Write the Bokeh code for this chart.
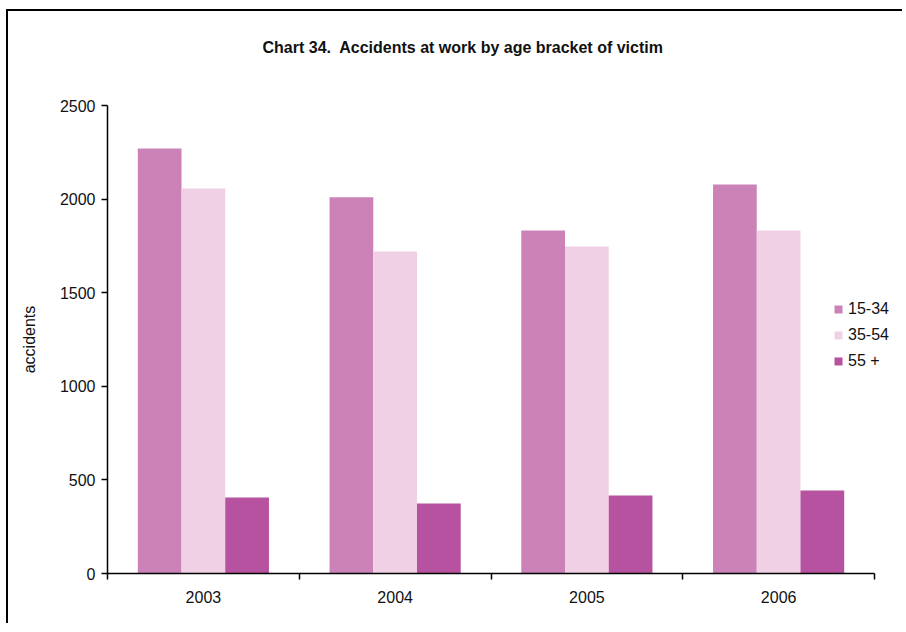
from bokeh.plotting import figure
from bokeh.models import ColumnDataSource, FixedTicker, Range1d, Legend, LegendItem
from bokeh.embed import file_html
from bokeh.resources import INLINE

years = ["2003", "2004", "2005", "2006"]
series_names = ["15-34", "35-54", "55 +"]
age_15_34 = [2270, 2010, 1832, 2078]
age_35_54 = [2057, 1720, 1747, 1832]
age_55_plus = [406, 374, 417, 443]
colors = ["#CB82B7", "#F0D0E4", "#B6529F"]
y_ticks = [0, 500, 1000, 1500, 2000, 2500]
title_text = "Chart 34.\u00a0 Accidents at work by age bracket of victim"

FONT = "Liberation Sans"
bar_w = 0.228

# geometry (pixels)
axis_px_w = 767.0    # length of x axis
frame_w = 793
frame_h = 468
n = len(years)
x_end = n * frame_w / axis_px_w
y_max = y_ticks[-1]

p = figure(output_backend="svg", toolbar_location=None,
           frame_width=frame_w, frame_height=frame_h,
           min_border_left=99, min_border_top=94, min_border_right=2, min_border_bottom=50,
           x_range=Range1d(0, x_end), y_range=Range1d(0, y_max))
p.styles = {"margin-left": "6px", "margin-top": "9px",
            "border-left": "2px solid black", "border-top": "2px solid black"}
p.outline_line_color = None
p.xgrid.grid_line_color = None
p.ygrid.grid_line_color = None

# title with two blank lines below it, to keep the gap above the plot area
p.title.text = title_text + "\n\u00a0\n\u00a0"
p.title.align = "left"
p.title.vertical_align = "top"
p.title.offset = 155
p.title.text_font = FONT
p.title.text_font_size = "16px"
p.title.text_font_style = "bold"
p.title.text_color = "#111111"
if "standoff" in p.title.properties():
    p.title.standoff = 28

centers = [i + 0.5 for i in range(n)]
items = []
for k, (name, vals) in enumerate(zip(series_names, [age_15_34, age_35_54, age_55_plus])):
    xs = [c + (k - 1) * bar_w for c in centers]
    src = ColumnDataSource(dict(x=xs, top=vals))
    r = p.vbar(x="x", top="top", width=bar_w, bottom=0, source=src,
               fill_color=colors[k], line_color=None)
    items.append(LegendItem(label=name, renderers=[r]))

legend = Legend(items=items, location=(726, 203), padding=0, margin=0,
                border_line_color=None, background_fill_alpha=0,
                glyph_width=10, glyph_height=10, label_standoff=5, spacing=8,
                label_text_font=FONT, label_text_font_size="16px", label_text_color="#111111")
p.add_layout(legend, "center")

# x axis
xa = p.xaxis[0]
xa.bounds = (0, n)
xa.ticker = FixedTicker(ticks=centers, minor_ticks=list(range(n + 1)))
xa.major_label_overrides = {c: y for c, y in zip(centers, years)}
xa.major_tick_out = 0
xa.major_tick_in = 0
xa.minor_tick_out = 6
xa.minor_tick_in = 0
xa.minor_tick_line_color = "black"
xa.minor_tick_line_width = 1.5
xa.axis_line_width = 1.5
xa.axis_line_color = "black"
xa.major_label_standoff = 11
xa.major_label_text_font = FONT
xa.major_label_text_font_size = "16px"
xa.major_label_text_color = "#111111"

ya = p.yaxis[0]
ya.ticker = FixedTicker(ticks=y_ticks, minor_ticks=[])
ya.major_tick_out = 6
ya.major_tick_in = 0
ya.major_tick_line_width = 1.5
ya.axis_line_width = 1.5
ya.axis_line_color = "black"
ya.major_label_standoff = 6
ya.major_label_text_font = FONT
ya.major_label_text_font_size = "16px"
ya.major_label_text_color = "#111111"
ya.axis_label = "accidents"
ya.axis_label_text_font = FONT
ya.axis_label_text_font_size = "16px"
ya.axis_label_text_font_style = "normal"
ya.axis_label_standoff = 19
ya.axis_label_text_color = "#111111"

open("out.html", "w").write(file_html(p, INLINE))
